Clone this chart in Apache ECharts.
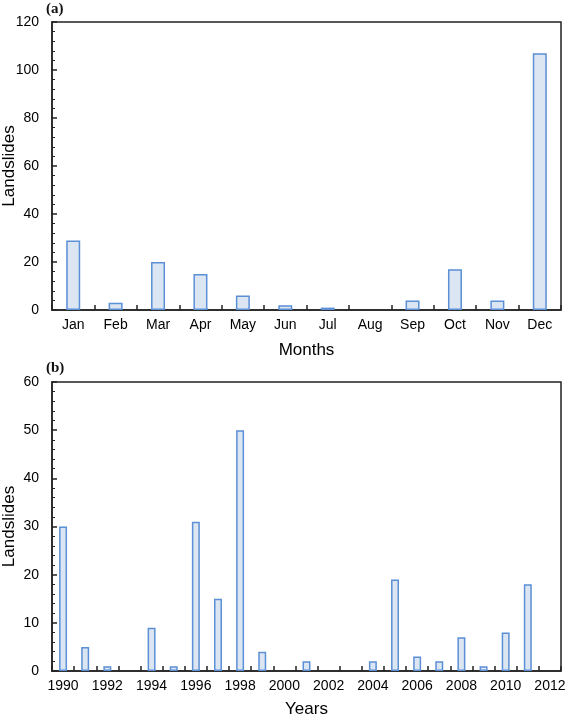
<!DOCTYPE html>
<html><head><meta charset="utf-8">
<script src="https://cdn.jsdelivr.net/npm/echarts@6/dist/echarts.min.js"></script>
<style>html,body{margin:0;padding:0;background:#fff}#c{width:567px;height:717px}</style>
</head><body><div id="c"></div>
<script>
const months = ['Jan','Feb','Mar','Apr','May','Jun','Jul','Aug','Sep','Oct','Nov','Dec'];
const monthCounts = [29,3,20,15,6,2,1,0,4,17,4,107];
const years = ['1990','1991','1992','1993','1994','1995','1996','1997','1998','1999','2000','2001','2002','2003','2004','2005','2006','2007','2008','2009','2010','2011','2012'];
const yearCounts = [30,5,1,0,9,1,31,15,50,4,0,2,0,0,2,19,3,2,7,1,8,18,0];
const monthTicks = [0,20,40,60,80,100,120];
const yearTicks = [0,10,20,30,40,50,60];

const FONT = 'Liberation Sans';
const axisLine = {lineStyle:{color:'#222',width:1.5}};
const barStyle = {color:'#dce6f2',borderColor:'#5b8fd6',borderWidth:1.5};
const noZero = arr => arr.map(v => v === 0 ? '-' : v);

function xAxis(idx, data, name, gap, interval){
  return {type:'category',gridIndex:idx,data:data,name:name,nameLocation:'middle',nameGap:gap,nameMoveOverlap:false,
    nameTextStyle:{fontFamily:FONT,fontSize:17,color:'#000'},
    axisLine:axisLine,
    axisTick:{show:true,inside:true,length:5,alignWithLabel:false,interval:0,lineStyle:{color:'#222',width:1.5}},
    axisLabel:{fontFamily:FONT,fontSize:14,color:'#000',margin:8,interval:interval},
    splitLine:{show:false}};
}
function yAxis(idx, ticks){
  return {type:'value',gridIndex:idx,min:ticks[0],max:ticks[ticks.length-1],interval:ticks[1]-ticks[0],
    name:'Landslides',nameLocation:'middle',nameGap:34,nameMoveOverlap:false,
    nameTextStyle:{fontFamily:FONT,fontSize:17,color:'#000'},
    axisLine:{show:true,lineStyle:{color:'#222',width:1.5}},
    axisTick:{show:true,inside:true,length:5,lineStyle:{color:'#222',width:1.5}},
    minorTick:{show:true,splitNumber:5,length:3,lineStyle:{color:'#222',width:1}},
    axisLabel:{fontFamily:FONT,fontSize:14,color:'#000',margin:13},
    splitLine:{show:false}};
}

const chart = echarts.init(document.getElementById('c'),null,{renderer:'canvas'});
chart.setOption({
  animation:false,
  backgroundColor:'#fff',
  grid:[
    {left:52,right:6,top:22,height:288,containLabel:false,outerBoundsMode:'none',show:true,borderColor:'#222',borderWidth:1.5,backgroundColor:'transparent'},
    {left:52,right:6,top:382,height:289,containLabel:false,outerBoundsMode:'none',show:true,borderColor:'#222',borderWidth:1.5,backgroundColor:'transparent'}
  ],
  xAxis:[xAxis(0,months,'Months',32,0), xAxis(1,years,'Years',30,1)],
  yAxis:[yAxis(0,monthTicks), yAxis(1,yearTicks)],
  series:[
    {type:'bar',xAxisIndex:0,yAxisIndex:0,data:noZero(monthCounts),barWidth:'33%',itemStyle:barStyle},
    {type:'bar',xAxisIndex:1,yAxisIndex:1,data:noZero(yearCounts),barWidth:'36%',itemStyle:barStyle}
  ],
  graphic:[
    {type:'text',left:46,top:2,style:{text:'(a)',font:'bold 15px "Liberation Serif"',fill:'#111'}},
    {type:'text',left:46,top:361,style:{text:'(b)',font:'bold 15px "Liberation Serif"',fill:'#111'}}
  ]
});
</script></body></html>
